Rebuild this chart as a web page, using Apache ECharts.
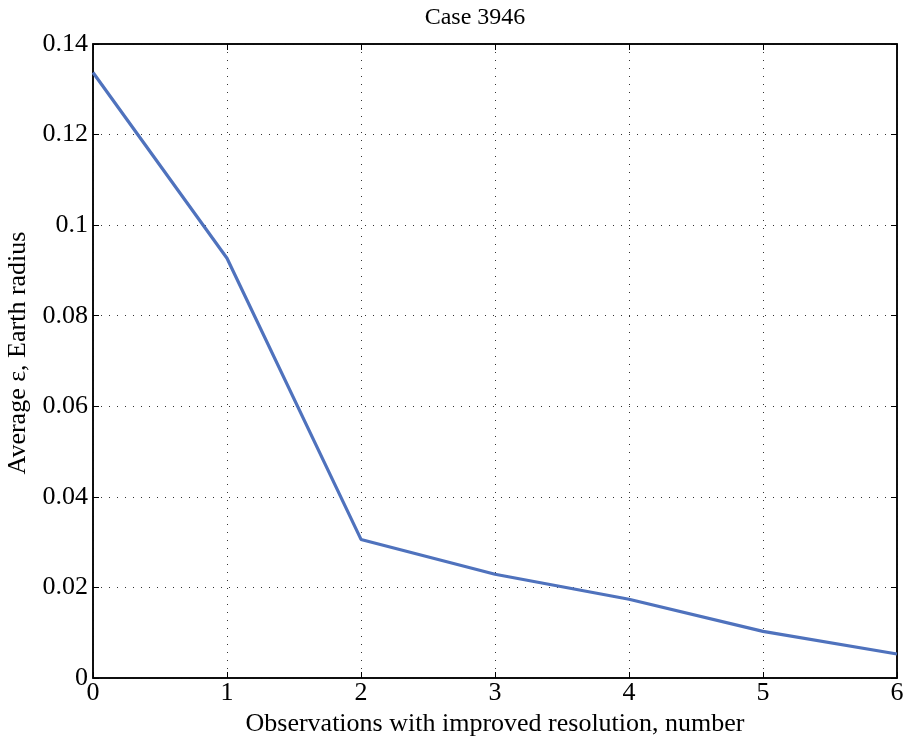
<!DOCTYPE html>
<html><head><meta charset="utf-8">
<script src="https://cdn.jsdelivr.net/npm/echarts@6/dist/echarts.min.js"></script>
<style>html,body{margin:0;padding:0;background:#fff}#c{width:909px;height:738px}</style>
</head><body><div id="c"></div>
<script>
var categories = [0, 1, 2, 3, 4, 5, 6];
var values = [0.1337, 0.0927, 0.0306, 0.0229, 0.0174, 0.0103, 0.0053];
var yTicks = [0, 0.02, 0.04, 0.06, 0.08, 0.1, 0.12, 0.14];
var titleText = 'Case 3946';
var xName = 'Observations with improved resolution, number';
var yName = 'Average \u03b5, Earth radius';

var F = 'Liberation Serif';
var chart = echarts.init(document.getElementById('c'), null, {renderer: 'canvas'});
function fmtY(v){ var r = Math.round(v*100)/100; return r === 0 ? '0' : String(r); }
var tickStyle = {show: true, inside: true, length: 6, lineStyle: {color: '#000', width: 1}};
chart.setOption({
  animation: false,
  title: {text: titleText, left: 470, top: 1, textAlign: 'center',
    textStyle: {fontFamily: F, fontSize: 24, fontWeight: 'normal', color: '#000'}},
  grid: {left: 93, right: 12, top: 44, bottom: 60, containLabel: false, outerBoundsMode: 'none',
    show: true, borderColor: '#000', borderWidth: 1.5, backgroundColor: 'transparent'},
  xAxis: [{
    type: 'value', min: 0, max: 6, interval: 1,
    name: xName, nameLocation: 'middle', nameGap: 26,
    nameTextStyle: {fontFamily: F, fontSize: 26, color: '#000', verticalAlign: 'top'},
    axisLine: {show: true, onZero: false, lineStyle: {color: '#000', width: 1.5}},
    axisTick: tickStyle,
    axisLabel: {fontFamily: F, fontSize: 26, color: '#000', margin: 2},
    splitLine: {show: true, lineStyle: {color: '#333', type: [1, 7], width: 1}}
  }, {
    type: 'value', min: 0, max: 6, interval: 1, position: 'top', show: true,
    axisLine: {show: true, onZero: false, lineStyle: {color: '#000', width: 1.5}},
    axisTick: tickStyle, axisLabel: {show: false}, splitLine: {show: false}
  }],
  yAxis: [{
    type: 'value', min: 0, max: 0.14, interval: 0.02,
    name: yName, nameLocation: 'middle', nameGap: 54, nameRotate: 90,
    nameTextStyle: {fontFamily: F, fontSize: 26, color: '#000', padding: [0, 0, 0, 16]},
    axisLine: {show: true, onZero: false, lineStyle: {color: '#000', width: 1.5}},
    axisTick: tickStyle,
    axisLabel: {fontFamily: F, fontSize: 26, color: '#000', margin: 5,
      formatter: function(v){ return fmtY(v); }},
    splitLine: {show: true, lineStyle: {color: '#333', type: [1, 7], width: 1}}
  }, {
    type: 'value', min: 0, max: 0.14, interval: 0.02, position: 'right', show: true,
    axisLine: {show: true, onZero: false, lineStyle: {color: '#000', width: 1.5}},
    axisTick: tickStyle, axisLabel: {show: false}, splitLine: {show: false}
  }],
  series: [{
    type: 'line', xAxisIndex: 0, yAxisIndex: 0,
    data: categories.map(function(c, i){ return [c, values[i]]; }),
    showSymbol: false, symbol: 'none',
    lineStyle: {color: '#4f72bd', width: 3.2},
    clip: false
  }]
});
</script></body></html>
